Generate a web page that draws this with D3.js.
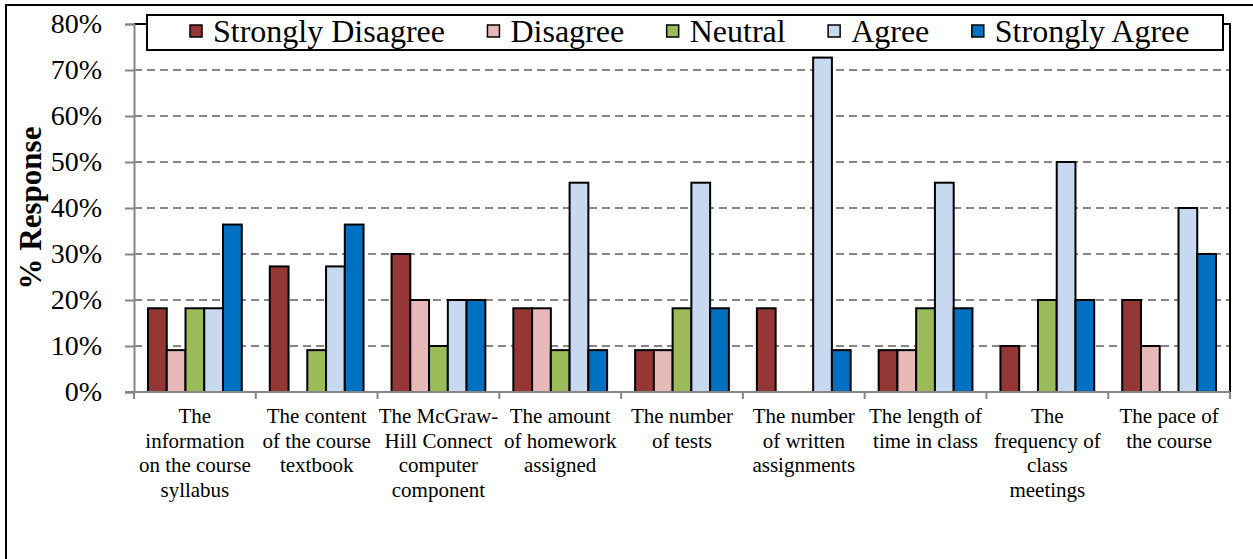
<!DOCTYPE html>
<html>
<head>
<meta charset="utf-8">
<script src="https://cdn.jsdelivr.net/npm/d3@7"></script>
<style>
  html, body { margin: 0; padding: 0; background: #fff; }
  svg { display: block; font-family: "Liberation Serif", "Times New Roman", serif; }
</style>
</head>
<body>
<svg id="chart" width="1253" height="559"></svg>
<script>
// Survey items (line breaks mark where each label wraps)
const categories = [
  "The\ninformation\non the course\nsyllabus",
  "The content\nof the course\ntextbook",
  "The McGraw-\nHill Connect\ncomputer\ncomponent",
  "The amount\nof homework\nassigned",
  "The number\nof tests",
  "The number\nof written\nassignments",
  "The length of\ntime in class",
  "The\nfrequency of\nclass\nmeetings",
  "The pace of\nthe course"
];

const seriesNames = ["Strongly Disagree", "Disagree", "Neutral", "Agree", "Strongly Agree"];

// % response per item, one array per answer option
const stronglyDisagree = [18.2, 27.3, 30, 18.2, 9.1, 18.2, 9.1, 10, 20];
const disagree         = [9.1, 0, 20, 18.2, 9.1, 0, 9.1, 0, 10];
const neutral          = [18.2, 9.1, 10, 9.1, 18.2, 0, 18.2, 20, 0];
const agree            = [18.2, 27.3, 20, 45.5, 45.5, 72.7, 45.5, 50, 40];
const stronglyAgree    = [36.4, 36.4, 20, 9.1, 18.2, 9.1, 18.2, 20, 30];

const yTicks = [0, 10, 20, 30, 40, 50, 60, 70, 80];

const seriesValues = [stronglyDisagree, disagree, neutral, agree, stronglyAgree];
const colors = ["#953735", "#E6B9B8", "#9BBB59", "#C6D9F1", "#0070C0"];

const svg = d3.select("#chart");
const plotLeft = 134, plotRight = 1230, plotTop = 24, plotBottom = 392;
const axisGray = "#868686";

// outer frame (left and top edges)
svg.append("path")
  .attr("d", "M6,560V5H1254")
  .attr("fill", "none").attr("stroke", "#000").attr("stroke-width", 2);

const x0 = d3.scaleBand().domain(d3.range(categories.length)).range([plotLeft, plotRight]).padding(0);
const x1 = d3.scaleBand().domain(d3.range(seriesNames.length))
  .range([14, x0.bandwidth() - 14]).padding(0);
const y = d3.scaleLinear().domain([0, 80]).range([plotBottom, plotTop]);

// dashed gridlines
svg.append("g").selectAll("line")
  .data(yTicks.filter(t => t > 0 && t < 80))
  .join("line")
  .attr("x1", plotLeft).attr("x2", plotRight)
  .attr("y1", d => y(d)).attr("y2", d => y(d))
  .attr("stroke", axisGray).attr("stroke-width", 2)
  .attr("stroke-dasharray", "8,5");

// plot-area border (top and right)
svg.append("path")
  .attr("d", `M${plotLeft},${y(80)}H${plotRight}V${plotBottom}`)
  .attr("fill", "none").attr("stroke", "#000").attr("stroke-width", 2);

// bars
const groups = svg.append("g").selectAll("g")
  .data(categories.map((c, i) => i))
  .join("g")
  .attr("transform", i => `translate(${x0(i)},0)`);

groups.selectAll("rect")
  .data(i => seriesValues.map((vals, s) => ({ s, v: vals[i] })).filter(d => d.v > 0))
  .join("rect")
  .attr("x", d => x1(d.s))
  .attr("width", x1.bandwidth())
  .attr("y", d => y(d.v))
  .attr("height", d => y(0) - y(d.v))
  .attr("fill", d => colors[d.s])
  .attr("stroke", "#000")
  .attr("stroke-width", 2);

// y axis
const yAxis = d3.axisLeft(y).tickValues(yTicks).tickFormat(d => d + "%").tickSize(9).tickPadding(23);
const gy = svg.append("g").attr("transform", `translate(${plotLeft},0)`).call(yAxis);
gy.select(".domain").attr("stroke", axisGray).attr("stroke-width", 2);
gy.selectAll(".tick line").attr("stroke", axisGray).attr("stroke-width", 2);
gy.selectAll(".tick text")
  .attr("font-family", "Liberation Serif, Times New Roman, serif")
  .attr("font-size", 28).attr("fill", "#000");

// x axis baseline with group separators
const boundaries = d3.range(categories.length + 1).map(i => plotLeft + i * x0.bandwidth());
svg.append("line")
  .attr("x1", plotLeft - 9).attr("x2", plotRight)
  .attr("y1", plotBottom).attr("y2", plotBottom)
  .attr("stroke", axisGray).attr("stroke-width", 2);
svg.append("g").selectAll("line")
  .data(boundaries)
  .join("line")
  .attr("x1", d => d).attr("x2", d => d)
  .attr("y1", plotBottom).attr("y2", plotBottom + 7)
  .attr("stroke", axisGray).attr("stroke-width", 2);

// category labels
const labels = svg.append("g")
  .attr("font-size", 21).attr("text-anchor", "middle").attr("fill", "#000");
categories.forEach((c, i) => {
  const cx = x0(i) + x0.bandwidth() / 2;
  const t = labels.append("text").attr("x", cx).attr("y", 423);
  c.split("\n").forEach((line, k) => {
    t.append("tspan")
      .attr("x", cx)
      .attr("dy", k === 0 ? 0 : 24.6)
      .text(line);
  });
});

// axis title
svg.append("text")
  .attr("transform", `translate(41,${(plotTop + plotBottom) / 2}) rotate(-90)`)
  .attr("text-anchor", "middle")
  .attr("font-size", 31).attr("font-weight", "bold")
  .text("% Response");

// legend
const legend = svg.append("g");
legend.append("rect")
  .attr("x", 147).attr("y", 15).attr("width", 1076).attr("height", 35)
  .attr("fill", "#fff").attr("stroke", "#000").attr("stroke-width", 2);
let lx = 190;
seriesNames.forEach((name, s) => {
  legend.append("rect")
    .attr("x", lx).attr("y", 25).attr("width", 12).attr("height", 12)
    .attr("fill", colors[s]).attr("stroke", "#000").attr("stroke-width", 1.5);
  const t = legend.append("text")
    .attr("x", lx + 23).attr("y", 42)
    .attr("font-size", 32).attr("fill", "#000")
    .text(name);
  lx += 23 + t.node().getComputedTextLength() + 42.5;
});
</script>
</body>
</html>
